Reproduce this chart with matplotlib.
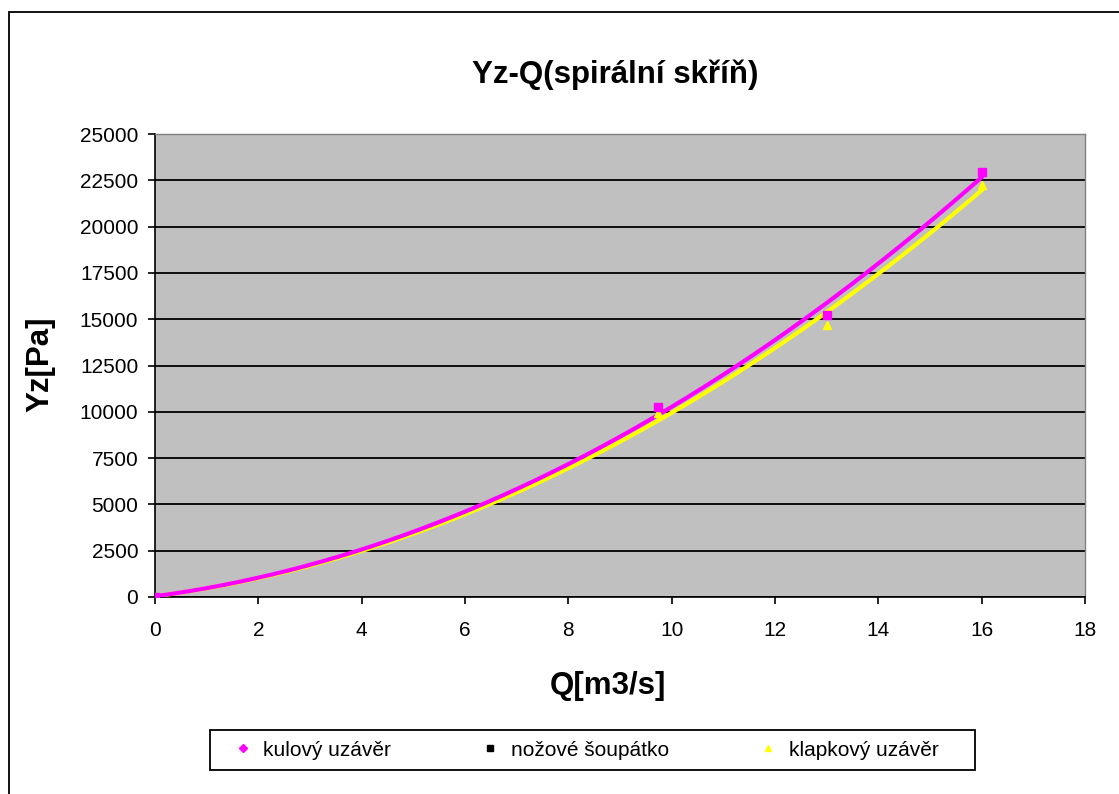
import numpy as np
import matplotlib
matplotlib.use("Agg")
import matplotlib.pyplot as plt
from matplotlib.patches import Rectangle
from matplotlib.lines import Line2D

plt.rcParams['font.family'] = ['Liberation Sans', 'DejaVu Sans']

# Data
q_kulovy = [0, 9.73, 13.0, 16.0]
yz_kulovy = [0, 10250, 15200, 22950]
q_nozove = []
yz_nozove = []
q_klapkovy = [0, 9.73, 13.0, 16.0]
yz_klapkovy = [0, 9950, 14700, 22250]

title = "Yz-Q(spirální skříň)"
xlabel = "Q[m3/s]"
ylabel = "Yz[Pa]"
series_names = ["kulový uzávěr", "nožové šoupátko", "klapkový uzávěr"]
xticks = list(range(0, 19, 2))
yticks = list(range(0, 25001, 2500))

fig = plt.figure(figsize=(11.19, 7.94), dpi=100)
fig.patches.append(Rectangle((9/1119, -0.01), 1.2, 1 - 12/794 + 0.01, transform=fig.transFigure,
                             fill=False, edgecolor='black', linewidth=1.3))
ax = fig.add_axes([155/1119, 1 - 597/794, 930/1119, 463/794])
ax.set_facecolor('#C0C0C0')
ax.set_xlim(0, 18)
ax.set_ylim(0, 25000)
ax.set_xticks(xticks)
ax.set_yticks(yticks)
ax.set_xticklabels([str(t) for t in xticks], fontsize=15)
ax.set_yticklabels([str(t) for t in yticks], fontsize=15)
ax.tick_params(direction='out', length=5, width=1.2, colors='black', pad=7)
ax.tick_params(axis='x', pad=12)
for s in ['top', 'right']:
    ax.spines[s].set_color('#808080')
    ax.spines[s].set_linewidth(1)
for s in ['left', 'bottom']:
    ax.spines[s].set_color('black')
    ax.spines[s].set_linewidth(1.2)
ax.grid(axis='y', color='black', linewidth=1.3)
ax.set_axisbelow(True)

# polynomial (order 2) trendlines
xs = np.linspace(0, 16, 200)
ck = np.polyfit(q_kulovy, yz_kulovy, 2)
cl = np.polyfit(q_klapkovy, yz_klapkovy, 2)
ax.plot(xs, np.polyval(cl, xs), color='#FFFF00', linewidth=3, zorder=3)
ax.plot(xs, np.polyval(ck, xs), color='#FF00FF', linewidth=3, zorder=4)

ax.plot(q_klapkovy, yz_klapkovy, linestyle='none', marker='^', color='#FFFF00', markersize=6, zorder=5)
ax.plot(q_nozove, yz_nozove, linestyle='none', marker='s', color='black', markersize=5, zorder=5)
ax.plot(q_kulovy, yz_kulovy, linestyle='none', marker='s', color='#FF00FF', markersize=5.5, zorder=6)

fig.text(615/1119, 1 - 75/794, title, ha='center', va='center', fontsize=22.5, fontweight='bold')
fig.text(608/1119, 1 - 686/794, xlabel, ha='center', va='center', fontsize=22.5, fontweight='bold')
fig.text(40/1119, 1 - 364/794, ylabel, ha='center', va='center', fontsize=22.5, fontweight='bold', rotation=90)

handles = [
    Line2D([], [], linestyle='none', marker='D', color='#FF00FF', markersize=4),
    Line2D([], [], linestyle='none', marker='s', color='black', markersize=4),
    Line2D([], [], linestyle='none', marker='^', color='#FFFF00', markersize=5),
]
leg = fig.legend(handles, series_names, loc='center left', bbox_to_anchor=(202/1119, 1 - 750/794),
                 ncol=3, frameon=False, fontsize=15, handlelength=2.0,
                 handletextpad=0.0, columnspacing=3.75, borderpad=0.45)
fig.patches.append(Rectangle((210/1119, 1 - 770/794), 765/1119, 40/794, transform=fig.transFigure,
                             fill=False, edgecolor='black', linewidth=1.3))

fig.savefig('out.png', dpi=100)
